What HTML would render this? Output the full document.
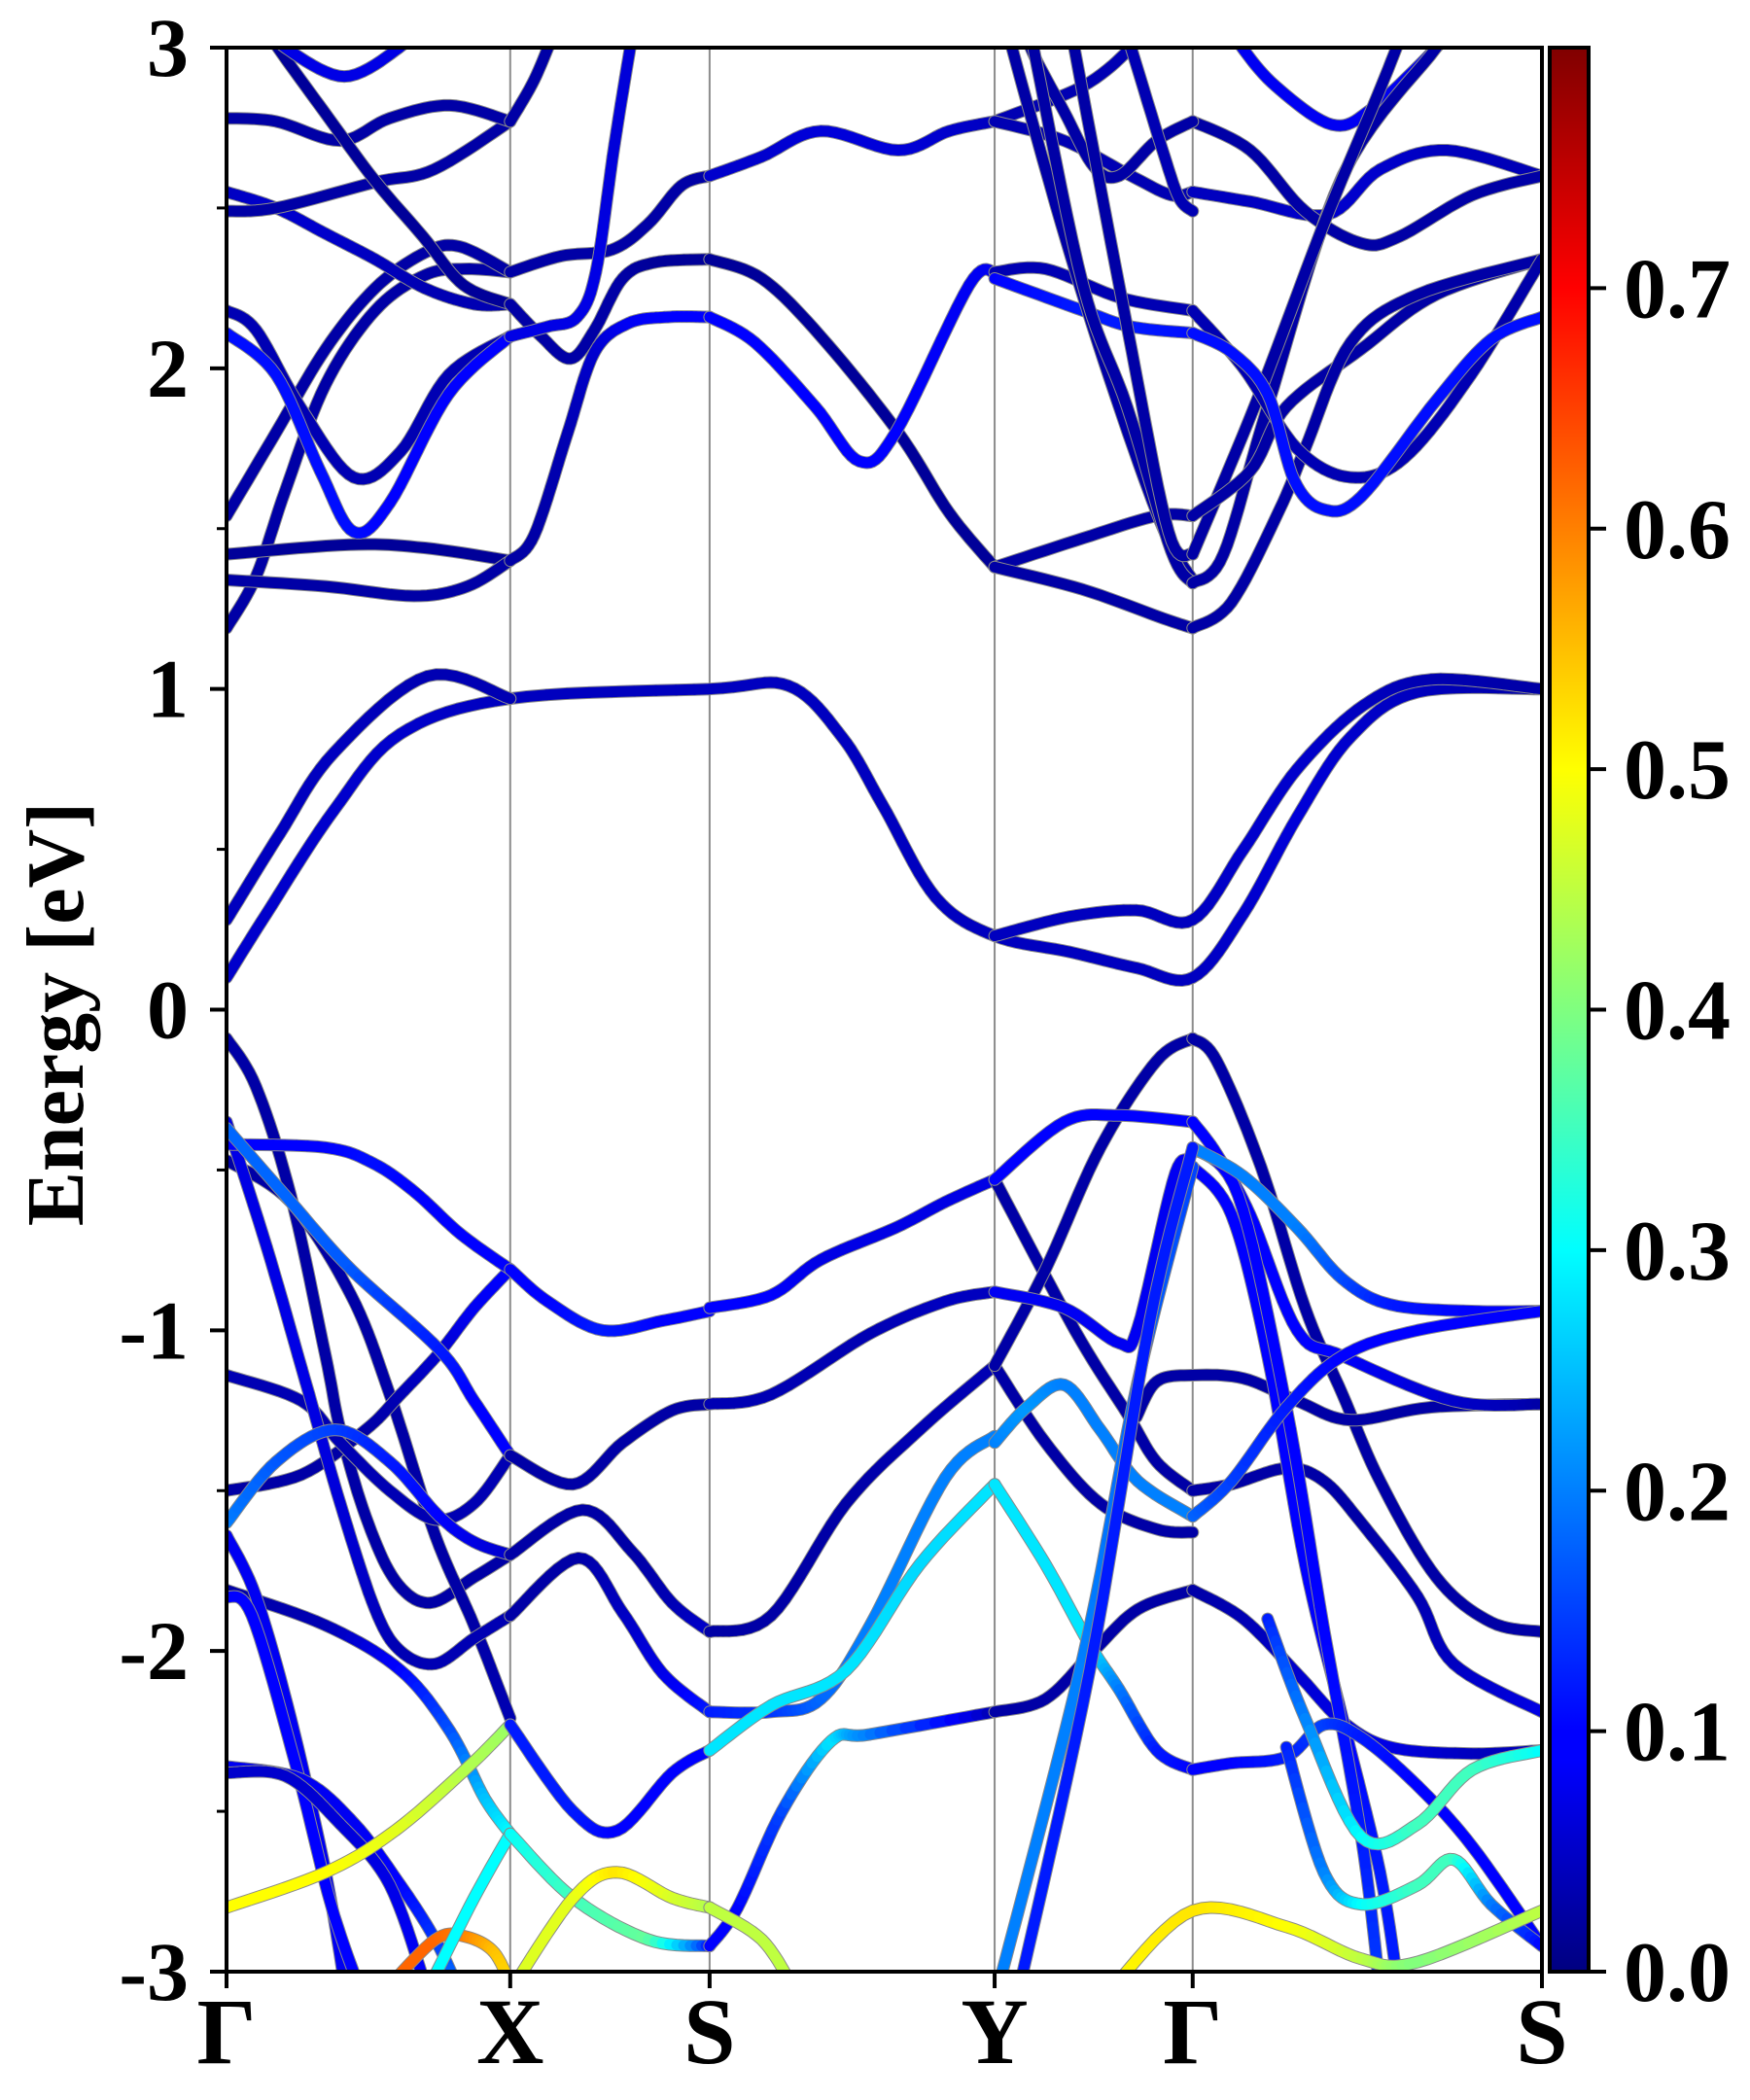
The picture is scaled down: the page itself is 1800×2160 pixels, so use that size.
<!DOCTYPE html>
<html><head><meta charset="utf-8">
<style>
html,body{margin:0;padding:0;background:#fff;}
svg{display:block;}
text{font-family:"Liberation Serif",serif;font-weight:bold;fill:#000;}
</style></head>
<body>
<svg id="chart" width="1800" height="2160" viewBox="0 0 1800 2160" xmlns="http://www.w3.org/2000/svg">
<defs>
<clipPath id="plotclip"><rect x="233" y="49" width="1353" height="1979"/></clipPath>
<linearGradient id="jetgrad" x1="0" y1="1" x2="0" y2="0">
<stop offset="0" stop-color="#000080"/><stop offset="0.11" stop-color="#0000ff"/><stop offset="0.125" stop-color="#0000ff"/>
<stop offset="0.375" stop-color="#00ffff"/><stop offset="0.625" stop-color="#ffff00"/><stop offset="0.875" stop-color="#ff0000"/><stop offset="1" stop-color="#800000"/>
</linearGradient>
</defs>
<g id="plot" clip-path="url(#plotclip)">
<g id="vlines"></g>
<g id="bands"></g>
</g>
<rect x="233" y="49" width="1353" height="1979" fill="none" stroke="#000" stroke-width="4"/>
<g id="yaxis"></g>
<g id="xaxis"></g>
<text x="0" y="0" font-size="84" text-anchor="middle" transform="translate(85,1043) rotate(-90)">Energy [eV]</text>
<g>
<rect x="1594" y="49" width="40" height="1979" fill="url(#jetgrad)" stroke="#000" stroke-width="4"/>
<g id="cbticks"></g>
</g>
</svg>
<script>
// ---- axis data ----
const kNodes = [0, 212, 361, 574, 722, 983];
const kLabels = ['Γ', 'X', 'S', 'Y', 'Γ', 'S'];
const yTicks = [-3, -2, -1, 0, 1, 2, 3];
const yTickLabels = ['-3', '-2', '-1', '0', '1', '2', '3'];
const yMinor = [-2.5, -1.5, -0.5, 0.5, 1.5, 2.5];
const cbTicks = [0, 0.1, 0.2, 0.3, 0.4, 0.5, 0.6, 0.7];
const cbTickLabels = ['0.0', '0.1', '0.2', '0.3', '0.4', '0.5', '0.6', '0.7'];
const cbMax = 0.8;

// ---- band data: [k, energy (eV), weight] ----
const c1 = [[0,0.10,.06],[30,0.30,.06],[80,0.62,.06],[130,0.86,.06],[212,0.97,.05],[361,1.0,.05],[420,1.01,.05],[460,0.85,.05],[490,0.64,.05],[530,0.35,.05],[574,0.23,.05],[630,0.18,.05],[680,0.13,.05],[722,0.10,.05],[760,0.30,.06],[800,0.60,.07],[840,0.85,.06],[890,0.99,.05],[983,1.0,.03]];
const c2a = [[0,0.28,.05],[40,0.55,.05],[80,0.80,.05],[150,1.04,.04],[212,0.97,.04]];
const c2b = [[574,0.23,.05],[630,0.29,.05],[680,0.31,.05],[722,0.28,.05],[760,0.50,.06],[800,0.75,.06],[850,0.95,.05],[900,1.03,.04],[983,1.0,.03]];
const p1 = [[0,1.19,.03],[22,1.35,.03],[44,1.62,.03],[74,1.95,.03],[111,2.18,.03],[148,2.29,.03],[178,2.31,.03],[212,2.30,.03]];
const p2 = [[0,1.54,.03],[37,1.80,.03],[74,2.06,.03],[111,2.25,.03],[148,2.36,.03],[174,2.38,.03],[212,2.30,.03]];
const p3 = [[0,1.42,.02],[92,1.45,.02],[148,1.44,.02],[212,1.40,.02]];
const p4 = [[0,1.34,.03],[74,1.32,.03],[140,1.29,.03],[180,1.32,.03],[212,1.40,.03]];
const p5 = [[0,2.18,.04],[22,2.12,.04],[55,1.88,.04],[95,1.66,.04],[130,1.74,.04],[166,1.98,.04],[212,2.10,.04]];
const p6 = [[0,2.11,.11],[37,1.98,.11],[70,1.68,.11],[95,1.49,.11],[122,1.58,.1],[166,1.92,.1],[212,2.10,.1]];
const p7 = [[0,2.55,.05],[37,2.50,.06],[74,2.42,.06],[111,2.34,.05],[148,2.25,.04],[185,2.20,.04],[212,2.20,.04]];
const p8 = [[0,2.49,.03],[37,2.50,.03],[111,2.58,.03],[155,2.62,.03],[212,2.77,.03]];
const p9 = [[0,2.78,.03],[37,2.77,.03],[85,2.71,.03],[122,2.78,.03],[167,2.82,.03],[212,2.77,.03]];
const p10 = [[30,3.06,.02],[40,2.99,.02],[73,2.80,.02],[110,2.59,.02],[147,2.41,.02],[177,2.26,.02],[212,2.20,.02]];
const p11 = [[34,3.06,.08],[44,3.0,.08],[88,2.91,.08],[129,3.0,.08],[139,3.06,.08]];
const q1 = [[212,2.77,.03],[230,2.90,.03],[246,3.06,.03]];
const q2 = [[212,2.30,.03],[250,2.35,.03],[288,2.37,.03],[315,2.45,.03],[340,2.57,.03],[361,2.60,.03]];
const q3 = [[212,2.20,.03],[235,2.10,.03],[257,2.03,.03],[275,2.12,.03],[296,2.28,.03],[320,2.33,.02],[361,2.34,.02]];
const q4 = [[212,2.10,.08],[240,2.13,.08],[262,2.16,.08],[276,2.30,.08],[290,2.70,.07],[304,3.06,.07]];
const q5 = [[212,1.40,.03],[230,1.48,.03],[255,1.80,.04],[275,2.05,.06],[300,2.14,.09],[330,2.16,.1],[361,2.16,.1]];
const r1 = [[361,2.60,.06],[400,2.66,.06],[444,2.74,.07],[502,2.68,.07],[540,2.74,.06],[574,2.77,.05]];
const r2 = [[361,2.34,.02],[400,2.28,.02],[444,2.10,.02],[502,1.80,.02],[540,1.55,.02],[574,1.38,.02]];
const r3 = [[361,2.16,.1],[395,2.08,.1],[440,1.88,.1],[473,1.71,.1],[500,1.80,.1],[555,2.26,.09],[574,2.30,.09]];
const r4 = [[574,2.30,.04],[612,2.31,.04],[668,2.22,.04],[722,2.18,.04]];
const r5 = [[574,2.28,.1],[640,2.18,.12],[676,2.13,.12],[722,2.11,.11]];
const r6 = [[574,1.38,.03],[640,1.47,.03],[695,1.54,.03],[722,1.54,.03]];
const r7 = [[574,1.38,.03],[640,1.31,.03],[700,1.22,.03],[722,1.19,.03]];
const s1 = [[574,2.77,.04],[640,2.88,.04],[676,3.0,.04],[686,3.06,.04]];
const s2 = [[574,2.77,.04],[626,2.71,.04],[676,2.60,.04],[706,2.54,.04],[722,2.55,.04]];
const s3 = [[722,2.55,.05],[765,2.52,.05],[823,2.48,.06],[862,2.62,.06],[912,2.68,.05],[983,2.60,.04]];
const s4 = [[722,2.77,.03],[765,2.68,.03],[806,2.49,.03],[848,2.39,.03],[876,2.41,.03],[931,2.54,.03],[983,2.60,.03]];
const s5 = [[597,3.06,.03],[603,2.98,.03],[626,2.80,.03],[648,2.63,.03],[667,2.60,.03],[695,2.71,.03],[722,2.77,.03]];
const s6 = [[672,3.06,.04],[676,3.0,.04],[701,2.66,.04],[712,2.53,.04],[722,2.49,.04]];
const s7 = [[752,3.06,.09],[759,3.0,.09],[784,2.88,.09],[826,2.76,.09],[856,2.81,.09],[904,3.0,.09],[912,3.06,.09]];
const v1 = [[585,3.06,.03],[587,3.0,.03],[628,2.39,.03],[667,1.88,.03],[701,1.49,.03],[722,1.34,.03]];
const v2 = [[601,3.06,.03],[603,3.0,.03],[640,2.26,.03],[673,1.88,.03],[706,1.43,.03],[722,1.33,.03]];
const v3 = [[632,3.06,.03],[634,2.99,.03],[673,2.13,.03],[704,1.49,.03],[722,1.42,.03]];
const w1 = [[722,1.33,.03],[745,1.42,.03],[778,1.88,.03],[834,2.60,.03],[904,3.0,.03],[910,3.06,.03]];
const w1b = [[722,1.42,.03],[770,1.90,.03],[820,2.45,.03],[860,2.85,.03],[880,3.06,.03]];
const w2 = [[722,1.54,.03],[765,1.68,.03],[792,1.88,.03],[848,2.06,.03],[904,2.23,.03],[983,2.34,.03]];
const w3 = [[722,1.19,.03],[751,1.27,.03],[787,1.56,.03],[806,1.75,.03],[840,2.08,.03],[890,2.23,.03],[983,2.34,.03]];
const w4 = [[722,2.11,.11],[751,2.05,.11],[778,1.92,.11],[798,1.65,.11],[820,1.56,.11],[848,1.60,.11],[904,1.90,.11],[945,2.09,.11],[983,2.16,.11]];
const w5 = [[722,2.18,.04],[760,2.0,.04],[800,1.75,.04],[840,1.66,.04],[880,1.72,.04],[930,1.98,.04],[983,2.34,.03]];
const g1 = [[0,-0.09,.03],[22,-0.24,.03],[48,-0.58,.03],[74,-1.08,.03],[85,-1.31,.03],[104,-1.58,.03],[126,-1.78,.03],[152,-1.85,.03],[185,-1.77,.03],[212,-1.70,.03]];
const g2 = [[0,-0.35,.08],[30,-0.74,.08],[59,-1.16,.08],[85,-1.54,.07],[111,-1.87,.05],[130,-2.0,.04],[156,-2.04,.04],[185,-1.96,.04],[212,-1.89,.04]];
const g3 = [[0,-0.47,.03],[48,-0.60,.03],[93,-0.89,.03],[122,-1.20,.03],[156,-1.64,.03],[185,-1.92,.03],[212,-2.21,.04]];
const g4 = [[0,-0.42,.1],[74,-0.43,.1],[110,-0.48,.11],[141,-0.57,.1],[175,-0.70,.1],[212,-0.81,.1]];
const g5 = [[0,-0.37,.18],[44,-0.58,.18],[93,-0.81,.17],[159,-1.06,.12],[185,-1.22,.1],[212,-1.39,.1]];
const g6 = [[0,-1.50,.03],[56,-1.45,.03],[104,-1.31,.03],[130,-1.20,.04],[159,-1.07,.06],[185,-0.93,.09],[212,-0.81,.1]];
const g7 = [[0,-1.60,.2],[37,-1.41,.17],[81,-1.31,.15],[122,-1.41,.12],[159,-1.58,.1],[185,-1.66,.08],[212,-1.70,.06]];
const g8 = [[0,-1.14,.04],[56,-1.22,.04],[85,-1.35,.04],[122,-1.50,.04],[156,-1.59,.04],[185,-1.54,.04],[212,-1.39,.04]];
const g9 = [[0,-1.81,.03],[74,-1.92,.04],[130,-2.06,.1],[167,-2.25,.16],[193,-2.46,.25],[212,-2.57,.3]];
const g10 = [[0,-2.80,.5],[74,-2.69,.5],[126,-2.56,.48],[181,-2.36,.44],[212,-2.23,.42]];
const g11 = [[0,-1.64,.09],[22,-1.83,.09],[48,-2.21,.09],[74,-2.69,.09],[89,-3.06,.09]];
const g12 = [[0,-1.83,.1],[19,-1.89,.1],[52,-2.36,.1],[78,-2.79,.1],[100,-3.06,.1]];
const g13 = [[0,-2.36,.09],[56,-2.40,.09],[96,-2.54,.09],[130,-2.73,.1],[156,-2.90,.14],[174,-3.06,.2]];
const g14 = [[0,-2.38,.06],[44,-2.39,.06],[85,-2.54,.07],[122,-2.73,.08],[150,-3.06,.1]];
const g15 = [[118,-3.06,.62],[156,-2.90,.62],[178,-2.89,.6],[200,-2.94,.55],[214,-3.06,.52]];
const g16 = [[212,-2.57,.3],[185,-2.77,.3],[150,-3.06,.3]];
const h1 = [[212,-0.81,.1],[240,-0.91,.1],[281,-1.0,.12],[326,-0.97,.1],[361,-0.94,.1]];
const h2 = [[212,-1.39,.03],[259,-1.48,.03],[296,-1.35,.03],[333,-1.25,.03],[361,-1.23,.03]];
const h3 = [[212,-1.70,.03],[266,-1.56,.03],[303,-1.69,.03],[333,-1.85,.04],[361,-1.94,.06]];
const h4 = [[212,-1.89,.03],[263,-1.71,.03],[296,-1.88,.05],[326,-2.07,.08],[361,-2.19,.12]];
const h5 = [[212,-2.23,.12],[259,-2.50,.12],[292,-2.56,.1],[333,-2.38,.1],[361,-2.31,.1]];
const h6 = [[212,-2.57,.3],[259,-2.77,.35],[315,-2.90,.38],[361,-2.92,.12]];
const h7 = [[212,-3.06,.47],[259,-2.77,.48],[292,-2.69,.52],[333,-2.77,.47],[361,-2.80,.44]];
const i1 = [[361,-0.93,.1],[407,-0.89,.1],[444,-0.78,.08],[500,-0.68,.08],[537,-0.60,.08],[574,-0.53,.08]];
const i2 = [[361,-1.23,.04],[407,-1.20,.04],[481,-1.01,.04],[537,-0.91,.05],[574,-0.88,.05]];
const i3 = [[361,-1.94,.03],[407,-1.89,.03],[463,-1.54,.03],[518,-1.31,.04],[574,-1.11,.04]];
const i4 = [[361,-2.19,.12],[407,-2.19,.14],[444,-2.15,.18],[481,-1.92,.2],[537,-1.46,.2],[574,-1.33,.2]];
const i5 = [[361,-2.31,.28],[407,-2.17,.28],[463,-2.06,.28],[518,-1.73,.27],[574,-1.48,.28]];
const i6 = [[361,-2.92,.1],[382,-2.80,.1],[415,-2.50,.15],[452,-2.28,.28],[481,-2.26,.2],[574,-2.19,.04]];
const i7 = [[361,-2.80,.45],[400,-2.90,.45],[425,-3.06,.45]];
const j1 = [[574,-0.53,.1],[626,-0.35,.1],[667,-0.33,.1],[722,-0.35,.1]];
const j1b = [[722,-0.35,.1],[740,-0.45,.1],[765,-0.64,.1],[800,-1.0,.1],[834,-1.08,.1],[917,-1.22,.06],[983,-1.23,.03]];
const j1c = [[722,-0.43,.2],[760,-0.52,.2],[800,-0.68,.2],[834,-0.84,.16],[870,-0.92,.12],[930,-0.94,.1],[983,-0.94,.1]];
const j2 = [[574,-0.53,.03],[634,-1.0,.03],[673,-1.26,.03],[695,-1.41,.03],[722,-1.50,.03]];
const j2b = [[722,-1.50,.03],[751,-1.48,.03],[792,-1.43,.03],[820,-1.47,.03],[848,-1.60,.03],[890,-1.83,.04],[917,-2.04,.05],[983,-2.19,.08]];
const j3 = [[574,-0.88,.09],[626,-0.93,.09],[667,-1.04,.09],[681,-0.99,.09],[709,-0.51,.09],[722,-0.49,.09]];
const j3b = [[722,-0.49,.1],[751,-0.64,.1],[778,-1.08,.1],[806,-1.73,.1],[834,-2.21,.1],[862,-2.69,.12],[876,-3.06,.12]];
const j3c = [[722,-0.43,.1],[756,-0.58,.1],[792,-1.24,.1],[820,-1.93,.1],[848,-2.58,.12],[862,-3.06,.15]];
const j4 = [[574,-1.11,.03],[612,-1.35,.03],[653,-1.54,.03],[695,-1.62,.03],[722,-1.63,.03]];
const j4b = [[574,-1.11,.03],[612,-0.81,.03],[653,-0.43,.03],[695,-0.16,.03],[722,-0.09,.03]];
const j4c = [[722,-0.09,.03],[740,-0.16,.03],[773,-0.49,.03],[806,-0.93,.03],[834,-1.20,.03],[862,-1.47,.03],[904,-1.77,.03],[945,-1.91,.03],[983,-1.94,.03]];
const j5 = [[574,-1.35,.2],[598,-1.24,.22],[626,-1.17,.2],[653,-1.31,.2],[681,-1.47,.2],[722,-1.58,.2]];
const j5b = [[722,-1.58,.18],[751,-1.47,.15],[792,-1.24,.12],[834,-1.08,.1],[890,-1.0,.1],[983,-0.94,.1]];
const j6 = [[574,-1.48,.28],[612,-1.73,.28],[645,-1.98,.28],[667,-2.12,.2],[695,-2.31,.12],[722,-2.37,.1]];
const j6b = [[722,-2.37,.1],[751,-2.35,.1],[792,-2.33,.12],[820,-2.23,.15],[848,-2.27,.12],[890,-2.42,.1],[931,-2.61,.1],[983,-2.92,.1]];
const j7 = [[574,-2.19,.03],[612,-2.15,.03],[648,-2.00,.03],[681,-1.87,.03],[722,-1.81,.03]];
const j7b = [[722,-1.81,.03],[760,-1.90,.04],[800,-2.07,.06],[834,-2.22,.08],[870,-2.30,.08],[930,-2.32,.05],[983,-2.31,.04]];
const j8 = [[680,-1.27,.03],[695,-1.16,.03],[722,-1.14,.03],[760,-1.15,.03],[800,-1.22,.03],[840,-1.28,.03],[900,-1.24,.03],[983,-1.23,.03]];
const y1 = [[576,-3.06,.2],[640,-2.02,.2],[681,-1.16,.18],[722,-0.49,.15]];
const y2 = [[592,-3.06,.12],[645,-2.06,.12],[690,-0.97,.12],[722,-0.43,.12]];
const t1 = [[778,-1.9,.12],[806,-2.21,.2],[848,-2.58,.3],[890,-2.54,.35],[931,-2.37,.35],[983,-2.31,.3]];
const t2 = [[792,-2.3,.12],[820,-2.69,.2],[848,-2.79,.3],[890,-2.73,.35],[917,-2.65,.35],[945,-2.79,.2],[983,-2.92,.1]];
const t3 = [[660,-3.06,.5],[722,-2.81,.52],[792,-2.86,.5],[848,-2.96,.45],[890,-2.97,.4],[983,-2.81,.45]];

const bandList = [c1,c2a,c2b,p1,p2,p3,p4,p5,p6,p7,p8,p9,p10,p11,q1,q2,q3,q4,q5,r1,r2,r3,r4,r5,r6,r7,s1,s2,s3,s4,s5,s6,s7,v1,v2,v3,w1,w1b,w2,w3,w5,w4,
  g1,g3,g6,g8,g2,g4,g5,g7,g9,g11,g12,g13,g14,g10,g15,g16,h2,h3,h4,h1,h5,h6,h7,i2,i3,i1,i4,i5,i6,i7,
  j2,j2b,j4,j4b,j4c,j7,j7b,j8,j1,j1b,j3,j3b,j3c,j1c,j5,j5b,j6,j6b,y1,y2,t1,t2,t3];

// ---- scales ----
const X0 = 233, X1 = 1586, Y0 = 49, Y1 = 2028;
function xScale(k){ return X0 + k / kNodes[kNodes.length-1] * (X1 - X0); }
function yScale(e){ return Y1 - (e + 3) / 6 * (Y1 - Y0); }
function cbScale(v){ return Y1 - v / cbMax * (Y1 - Y0); }
function clamp(v){ return Math.max(0, Math.min(1, v)); }
function jet(v){
  const t = clamp(v / cbMax);
  const r = clamp(1.5 - Math.abs(4*t - 3)), g = clamp(1.5 - Math.abs(4*t - 2)), b = clamp(1.5 - Math.abs(4*t - 1));
  return 'rgb(' + Math.round(r*255) + ',' + Math.round(g*255) + ',' + Math.round(b*255) + ')';
}
const NS = 'http://www.w3.org/2000/svg';
function mk(tag, attrs, parent){ const el = document.createElementNS(NS, tag); for (const a in attrs) el.setAttribute(a, attrs[a]); parent.appendChild(el); return el; }

const vg = document.getElementById('vlines');
kNodes.slice(1, -1).forEach(function(k){
  const ln = mk('line', {x1: xScale(k), x2: xScale(k), y1: Y0, y2: Y1, stroke: '#8c8c8c', 'stroke-width': 2}, vg);
  
  
});

function smooth(band){
  const P = band.map(function(p){ return [xScale(p[0]), yScale(p[1]), p[2]]; });
  const out = [];
  const steps = 10;
  for (let i = 0; i < P.length - 1; i++){
    const p0 = P[i-1] || P[i], p1 = P[i], p2 = P[i+1], p3 = P[i+2] || P[i+1];
    for (let s = 0; s < steps; s++){
      const t = s / steps, t2 = t*t, t3 = t2*t;
      const x = 0.5*((2*p1[0]) + (-p0[0]+p2[0])*t + (2*p0[0]-5*p1[0]+4*p2[0]-p3[0])*t2 + (-p0[0]+3*p1[0]-3*p2[0]+p3[0])*t3);
      const y = 0.5*((2*p1[1]) + (-p0[1]+p2[1])*t + (2*p0[1]-5*p1[1]+4*p2[1]-p3[1])*t2 + (-p0[1]+3*p1[1]-3*p2[1]+p3[1])*t3);
      out.push([x, y, p1[2] + (p2[2]-p1[2])*t]);
    }
  }
  const L = P[P.length-1]; out.push([L[0], L[1], L[2]]);
  return out;
}

const bg = document.getElementById('bands');
bandList.forEach(function(band, bi){
  const pts = smooth(band);
  const g = mk('g', {}, bg);
  
  
  const d = 'M' + pts.map(function(p){ return p[0].toFixed(1) + ',' + p[1].toFixed(1); }).join('L');
  const outline = mk('path', {d: d, fill: 'none', stroke: '#8a8a8a', 'stroke-width': 13, 'stroke-linejoin': 'round', 'stroke-linecap': 'round'}, g);
  
  
  const ws = band.map(function(p){ return p[2]; });
  const constant = ws.every(function(w){ return w === ws[0]; });
  if (constant){
    const seg = mk('path', {d: d, fill: 'none', stroke: jet(ws[0]), 'stroke-width': 11, 'stroke-linejoin': 'round', 'stroke-linecap': 'round'}, g);
    
    
  } else {
    for (let i = 0; i < pts.length - 1; i++){
      const a = pts[i], b = pts[i+1];
      const seg = mk('line', {x1: a[0].toFixed(1), y1: a[1].toFixed(1), x2: b[0].toFixed(1), y2: b[1].toFixed(1), stroke: jet((a[2]+b[2])/2), 'stroke-width': 11, 'stroke-linecap': 'round'}, g);
      
      
    }
  }
});

const ya = document.getElementById('yaxis');
yTicks.forEach(function(e, i){
  const y = yScale(e);
  const tk = mk('line', {x1: 216, x2: 233, y1: y, y2: y, stroke: '#000', 'stroke-width': 4}, ya);
  
  
  const tx = mk('text', {x: 194, y: y + 29, 'font-size': 86, 'text-anchor': 'end'}, ya);
  tx.textContent = yTickLabels[i];
  
  
});
yMinor.forEach(function(e){
  const y = yScale(e);
  const tk = mk('line', {x1: 223, x2: 233, y1: y, y2: y, stroke: '#000', 'stroke-width': 3}, ya);
  
  
});

const xa = document.getElementById('xaxis');
kNodes.forEach(function(k, i){
  const x = xScale(k);
  const tk = mk('line', {x1: x, x2: x, y1: Y1, y2: 2045, stroke: '#000', 'stroke-width': 4}, xa);
  
  
  const tx = mk('text', {x: x, y: 2122, 'font-size': 96, 'text-anchor': 'middle'}, xa);
  tx.textContent = kLabels[i];
  
  
});

const cb = document.getElementById('cbticks');
cbTicks.forEach(function(v, i){
  const y = cbScale(v);
  const tk = mk('line', {x1: 1634, x2: 1652, y1: y, y2: y, stroke: '#000', 'stroke-width': 4}, cb);
  
  
  const tx = mk('text', {x: 1670, y: y + 30, 'font-size': 88, 'text-anchor': 'start'}, cb);
  tx.textContent = cbTickLabels[i];
  
  
});
</script>
</body></html>
